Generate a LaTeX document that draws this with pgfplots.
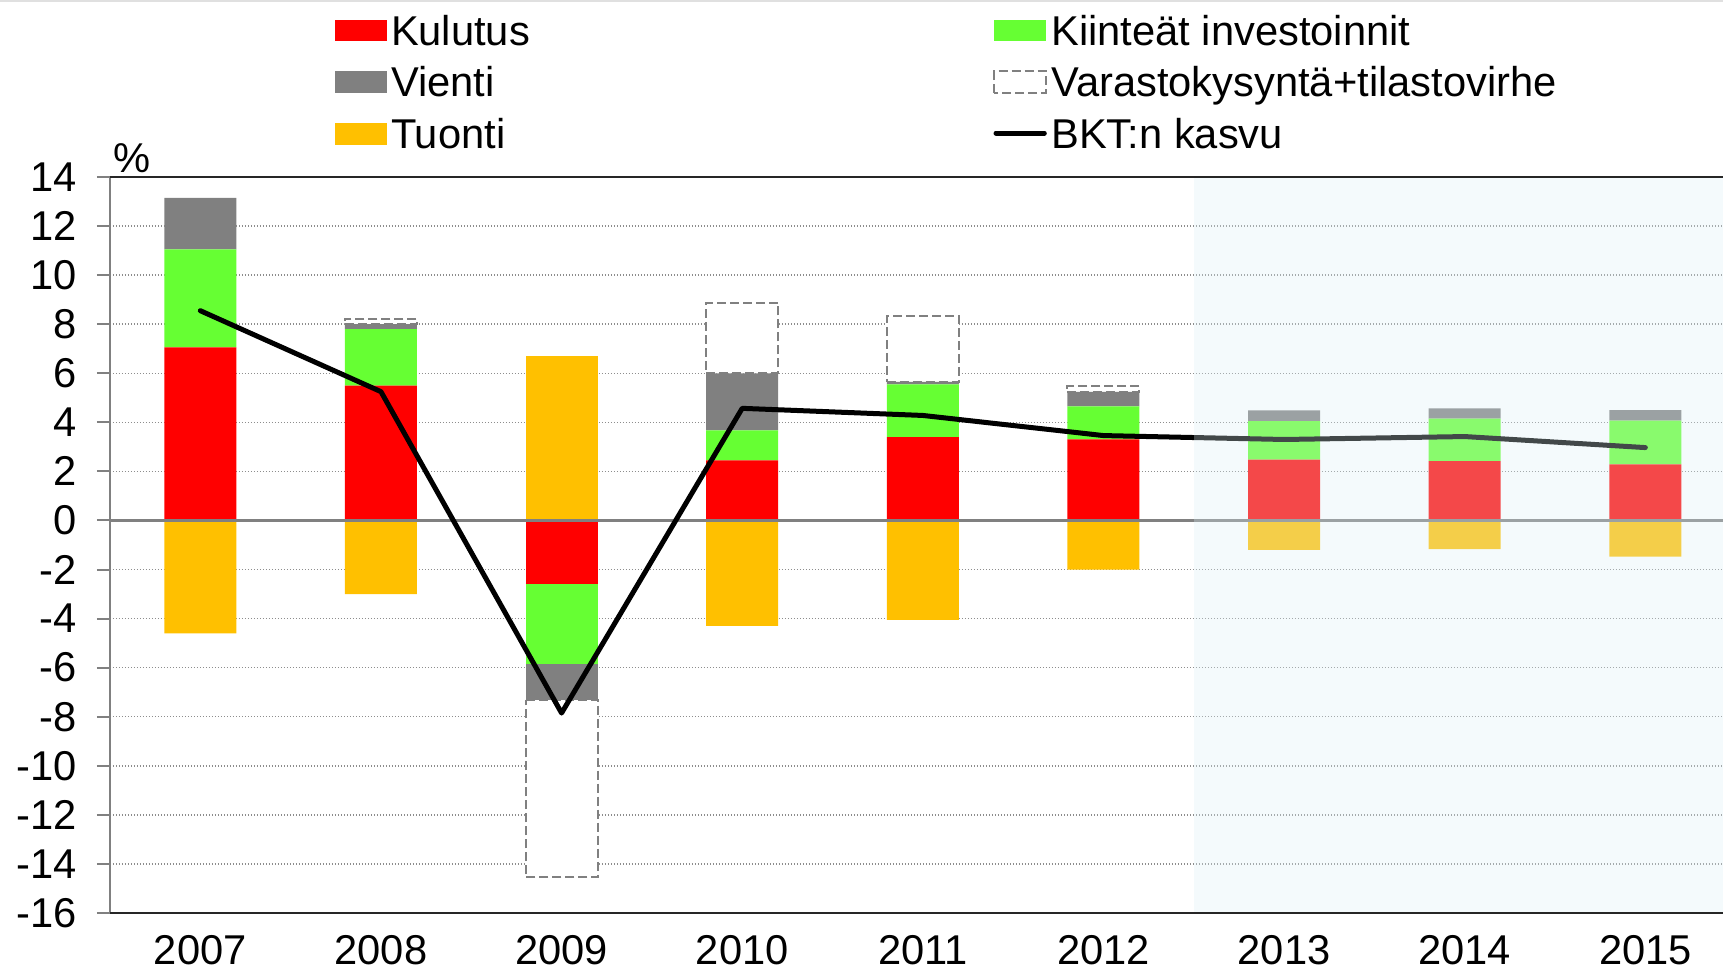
\documentclass[border=0pt]{standalone}
\usepackage{fontspec}
\setmainfont{Liberation Sans}
\usepackage{pgfplots}
\usepackage{pgfplotstable}
\pgfplotsset{compat=1.18}
\definecolor{kred}{HTML}{FF0000}
\definecolor{kgreen}{HTML}{66FF33}
\definecolor{kgray}{HTML}{808080}
\definecolor{korange}{HTML}{FFC000}
\definecolor{fcshade}{RGB}{220,240,245}
\definecolor{edgegray}{HTML}{E0E0E0}

\pgfplotstableread{
x K I V VT T
0 7.05 4.00 2.10 0.00 0.00
1 5.50 2.30 0.20 0.22 0.00
2 0.00 0.00 0.00 0.00 6.70
3 2.45 1.22 2.32 2.88 0.00
4 3.40 2.15 0.10 2.69 0.00
5 3.30 1.35 0.59 0.23 0.00
6 2.48 1.57 0.44 0.00 0.00
7 2.42 1.73 0.42 0.00 0.00
8 2.29 1.78 0.43 0.00 0.00
}\pos

\pgfplotstableread{
x K I V VT T
0 0.00 0.00 0.00 0.00 -4.60
1 0.00 0.00 0.00 0.00 -3.00
2 -2.60 -3.25 -1.45 -7.25 0.00
3 0.00 0.00 0.00 0.00 -4.30
4 0.00 0.00 0.00 0.00 -4.05
5 0.00 0.00 0.00 0.00 -2.00
6 0.00 0.00 0.00 0.00 -1.20
7 0.00 0.00 0.00 0.00 -1.17
8 0.00 0.00 0.00 0.00 -1.47
}\negt

\pgfplotstableread{
x y
0 8.55
1 5.25
2 -7.85
3 4.57
4 4.28
5 3.46
6 3.30
7 3.42
8 2.97
}\bkt

\pgfplotsset{
  common/.style={width=483.9pt,height=220.8pt,scale only axis,
    xmin=-0.5,xmax=8.43,ymin=-16,ymax=14,
    at={(0pt,0pt)}, anchor=south west},
  vtstyle/.style={fill=white, draw=kgray, line width=0.6pt, dash pattern=on 2.7pt off 1.2pt},
}

\begin{document}
\begin{tikzpicture}[font=\fontsize{12.5}{15}\selectfont]
\begin{axis}[common, clip=false,
  ybar stacked, bar width=21.6pt,
  axis x line*=box, axis y line*=left,
  x axis line style={black!85, line width=0.6pt},
  y axis line style={kgray, line width=0.6pt, -},
  ytick={-16,-14,-12,-10,-8,-6,-4,-2,0,2,4,6,8,10,12,14},
  yticklabels={-16,-14,-12,-10,-8,-6,-4,-2,0,2,4,6,8,10,12,14},
  xtick={0,1,2,3,4,5,6,7,8},
  xticklabels={2007,2008,2009,2010,2011,2012,2013,2014,2015},
  tick align=outside, major tick length=3.9pt,
  xtick style={draw=none},
  ytick style={kgray, line width=0.6pt},
  yticklabel style={anchor=east, inner sep=0pt, xshift=-5.9pt},
  xticklabel style={anchor=north, inner sep=0pt, yshift=-2.5pt},
  ymajorgrids,
  major grid style={kgray!90, line width=0.45pt, dash pattern=on 0.45pt off 0.45pt},
  legend columns=2, legend cell align=left,
  legend style={at={(axis description cs:0.1395,1.2200)}, anchor=north west,
    draw=none, fill=none, inner sep=0pt, outer sep=0pt, row sep=3.9pt,
    column sep=0pt,
    nodes={inner sep=0pt, text height=9pt, text depth=2.6pt},
    /tikz/every odd column/.append style={column sep=1.3pt}},
  legend image code/.code={\path[#1] (0pt,-2.1pt) rectangle (15.5pt,4.4pt);},
]
\addplot[fill=kred, draw=none] table[x=x,y=K]{\pos};
\addlegendentry{\makebox[180.7pt][l]{Kulutus}}
\addplot[fill=kgreen, draw=none] table[x=x,y=I]{\pos};
\addlegendentry{Kiinteät investoinnit}
\addplot[fill=kgray, draw=none] table[x=x,y=V]{\pos};
\addlegendentry{\makebox[180.7pt][l]{Vienti}}
\addplot[vtstyle] table[x=x,y=VT]{\pos};
\addlegendentry{Varastokysyntä+tilastovirhe}
\addplot[fill=korange, draw=none] table[x=x,y=T]{\pos};
\addlegendentry{\makebox[180.7pt][l]{Tuonti}}
\addlegendimage{legend image code/.code={\draw[black,line width=1.5pt,line cap=round] (0.5pt,1.4pt) -- (15pt,1.4pt);}}
\addlegendentry{BKT:n kasvu}
\node[anchor=base west, inner sep=0pt, xshift=1pt, yshift=1.3pt] at (rel axis cs:0,1) {\%};
\end{axis}

\begin{axis}[common, hide axis, ybar stacked, bar width=21.6pt]
\addplot[fill=kred, draw=none] table[x=x,y=K]{\negt};
\addplot[fill=kgreen, draw=none] table[x=x,y=I]{\negt};
\addplot[fill=kgray, draw=none] table[x=x,y=V]{\negt};
\addplot[vtstyle] table[x=x,y=VT]{\negt};
\addplot[fill=korange, draw=none] table[x=x,y=T]{\negt};
\end{axis}

\begin{axis}[common, hide axis]
\addplot[kgray, line width=0.9pt] coordinates {(-0.5,0) (8.43,0)};
\addplot[black, line width=1.5pt, line join=round, line cap=round] table[x=x,y=y]{\bkt};
\fill[fcshade, fill opacity=0.3] (axis cs:5.5,-16) rectangle (axis cs:8.43,14);
\draw[black!85, line width=0.6pt] (rel axis cs:0,0) -- (rel axis cs:1,0);
\draw[black!85, line width=0.6pt] (rel axis cs:0,1) -- (rel axis cs:1,1);
\end{axis}
\fill[edgegray] (-33pt,273.3pt) rectangle (483.9pt,273.9pt);
\pgfresetboundingbox
\path[use as bounding box] (-33pt,-17.1pt) rectangle (483.9pt,273.9pt);
\end{tikzpicture}
\end{document}
